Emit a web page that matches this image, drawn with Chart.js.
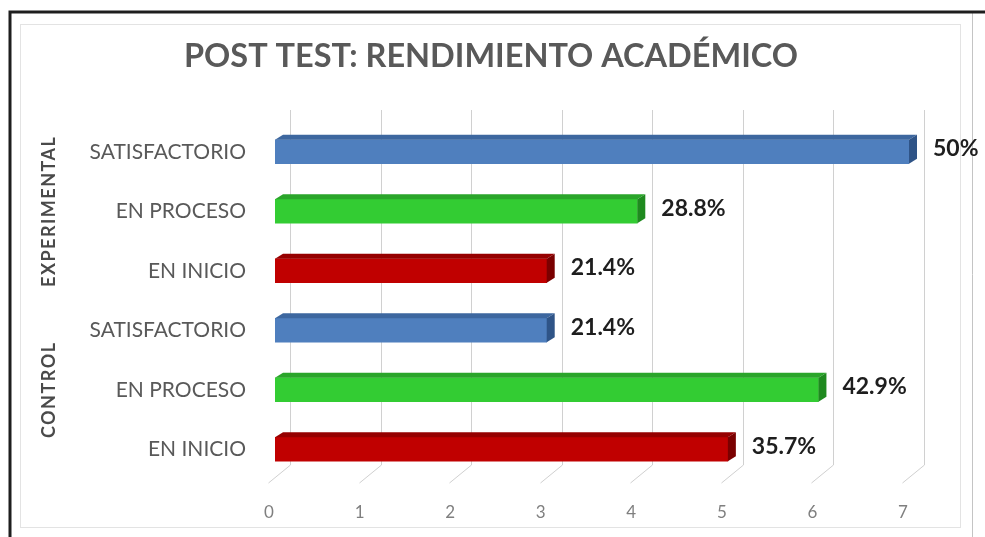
<!DOCTYPE html>
<html>
<head>
  <meta charset="utf-8">
  <script src="https://cdn.jsdelivr.net/npm/chart.js"></script>
  <style>
    html, body { margin: 0; padding: 0; background: #fff; }
    .chartBox { width: 985px; height: 537px; }
  </style>
</head>
<body>
  <div class="chartBox">
    <canvas id="postTestChart"></canvas>
  </div>

<script>
// data (top bar first)
const chartTitle = "POST TEST: RENDIMIENTO ACADÉMICO";
const levels = ["SATISFACTORIO", "EN PROCESO", "EN INICIO", "SATISFACTORIO", "EN PROCESO", "EN INICIO"];
const groups = ["EXPERIMENTAL", "CONTROL"];
const groupIndex = [1, 4];             // which row the group label sits beside
const counts = [7, 4, 3, 3, 6, 5];
const percentLabels = ["50%", "28.8%", "21.4%", "21.4%", "42.9%", "35.7%"];
const xTicks = [0, 1, 2, 3, 4, 5, 6, 7];

// front / top / side colours per level
const front = ["#4f7fbe", "#33cc33", "#c00000", "#4f7fbe", "#33cc33", "#c00000"];
const topFace = ["#3d679f", "#2aa52a", "#960000", "#3d679f", "#2aa52a", "#960000"];
const sideFace = ["#2f5487", "#1f8a1f", "#7a0000", "#2f5487", "#1f8a1f", "#7a0000"];

const depthX = 8, depthY = 5;

// frame, title + back grid (3D look)
const backdrop = {
  id: 'backdrop',
  beforeDraw(chart) {
    const {ctx} = chart;
    ctx.save();
    ctx.fillStyle = '#fff';
    ctx.fillRect(0, 0, chart.width, chart.height);
    ctx.strokeStyle = '#e3e3e3';
    ctx.lineWidth = 1;
    ctx.strokeRect(20.5, 24.5, 940, 503);
    ctx.strokeStyle = '#c4c4c4';
    ctx.beginPath();
    ctx.moveTo(972.5, 12); ctx.lineTo(972.5, 537);
    ctx.stroke();
    ctx.strokeStyle = '#1e1e1e';
    ctx.lineWidth = 3;
    ctx.beginPath();
    ctx.moveTo(10, 537); ctx.lineTo(10, 12); ctx.lineTo(985, 12);
    ctx.stroke();

    ctx.fillStyle = '#595959';
    ctx.font = 'bold 33px Lato';
    ctx.textAlign = 'center';
    ctx.textBaseline = 'alphabetic';
    ctx.fillText(chartTitle, 491, 67, 614);
    ctx.restore();
  },
  beforeDatasetsDraw(chart) {
    const {ctx, scales: {x}} = chart;
    ctx.save();
    ctx.strokeStyle = '#d0d0d0';
    ctx.lineWidth = 1;
    xTicks.forEach(v => {
      const px = Math.round(x.getPixelForValue(v)) + 0.5;
      ctx.beginPath();
      ctx.moveTo(px + 15, 110);
      ctx.lineTo(px + 15, 465);
      ctx.lineTo(px - 7, 483);
      ctx.stroke();
    });
    ctx.restore();
  }
};

// top and side faces of each bar, value labels, group labels
const bars3d = {
  id: 'bars3d',
  afterDatasetsDraw(chart) {
    const {ctx, scales: {y}} = chart;
    const meta = chart.getDatasetMeta(0);
    ctx.save();
    meta.data.forEach((bar, i) => {
      const x0 = bar.base, x1 = bar.x;
      const yt = bar.y - bar.height / 2, yb = bar.y + bar.height / 2;
      ctx.fillStyle = topFace[i];
      ctx.beginPath();
      ctx.moveTo(x0, yt);
      ctx.lineTo(x0 + depthX, yt - depthY);
      ctx.lineTo(x1 + depthX, yt - depthY);
      ctx.lineTo(x1, yt);
      ctx.closePath();
      ctx.fill();
      ctx.fillStyle = sideFace[i];
      ctx.beginPath();
      ctx.moveTo(x1, yt);
      ctx.lineTo(x1 + depthX, yt - depthY);
      ctx.lineTo(x1 + depthX, yb - depthY);
      ctx.lineTo(x1, yb);
      ctx.closePath();
      ctx.fill();

      ctx.fillStyle = '#1e1e1e';
      ctx.font = 'bold 23px Lato';
      ctx.textAlign = 'left';
      ctx.textBaseline = 'middle';
      ctx.fillText(percentLabels[i], x1 + depthX + 16, bar.y - 3);
    });

    ctx.fillStyle = '#4a4a4a';
    ctx.font = 'bold 18px Lato';
    ctx.letterSpacing = '1.5px';
    ctx.textAlign = 'center';
    ctx.textBaseline = 'middle';
    groups.forEach((g, k) => {
      ctx.save();
      ctx.translate(49, y.getPixelForValue(groupIndex[k]));
      ctx.rotate(-Math.PI / 2);
      ctx.fillText(g, 0, 0);
      ctx.restore();
    });
    ctx.restore();
  }
};

new Chart(document.getElementById('postTestChart'), {
  type: 'bar',
  data: {
    labels: levels,
    datasets: [{
      data: counts,
      backgroundColor: front,
      borderWidth: 0,
      barThickness: 24
    }]
  },
  options: {
    responsive: true,
    maintainAspectRatio: false,
    animation: false,
    indexAxis: 'y',
    layout: { padding: { left: 0, right: 76, top: 122, bottom: 0 } },
    plugins: {
      legend: { display: false },
      tooltip: { enabled: false },
      title: { display: false }
    },
    scales: {
      x: {
        min: 0,
        max: 7,
        afterFit(axis) { axis.height = 58; },
        grid: { display: false },
        border: { display: false },
        ticks: {
          stepSize: 1,
          padding: 15,
          labelOffset: -6,
          color: '#7f7f7f',
          font: { family: 'Lato', size: 17 }
        }
      },
      y: {
        afterFit(axis) { axis.width = 275; },
        grid: { display: false },
        border: { display: false },
        ticks: {
          padding: 21,
          color: '#595959',
          font: { family: 'Lato', size: 21 }
        }
      }
    }
  },
  plugins: [backdrop, bars3d]
});
</script>
</body>
</html>
